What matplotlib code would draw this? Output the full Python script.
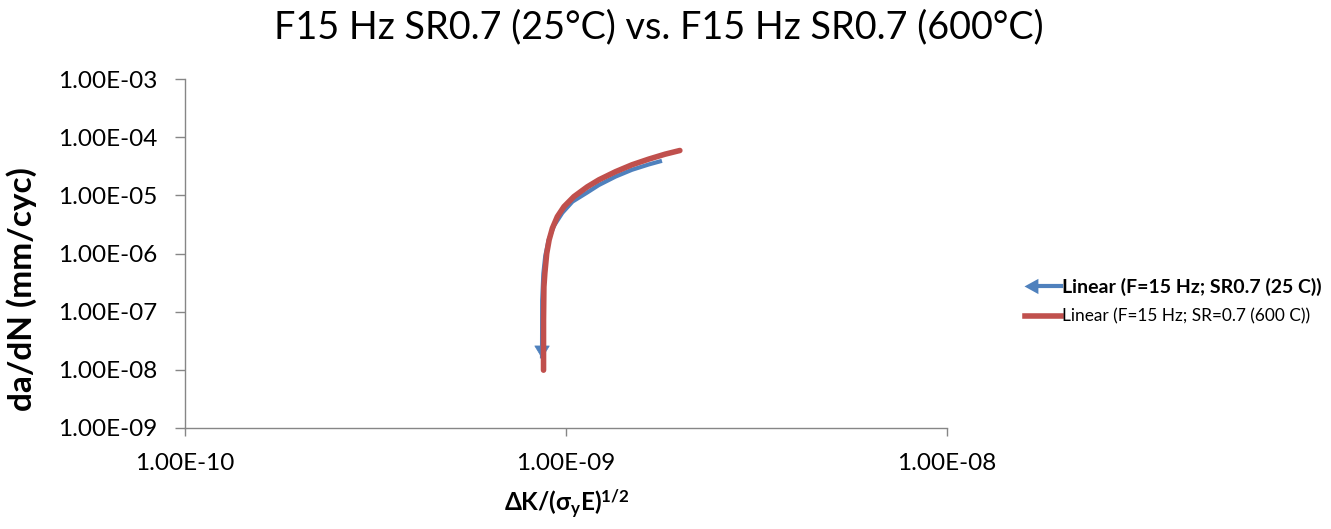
import matplotlib
matplotlib.use("Agg")
import matplotlib.pyplot as plt
from matplotlib.lines import Line2D
from matplotlib.patches import Polygon
from matplotlib.legend_handler import HandlerBase

plt.rcParams['font.family'] = ['Lato', 'DejaVu Sans']
plt.rcParams['mathtext.fontset'] = 'custom'
plt.rcParams['mathtext.rm'] = 'Lato'
plt.rcParams['mathtext.bf'] = 'Lato:bold'
plt.rcParams['mathtext.it'] = 'Lato:italic'

# ---- data ----
title = "F15 Hz SR0.7 (25°C) vs. F15 Hz SR0.7 (600°C)"
label_25 = "Linear (F=15 Hz; SR0.7 (25 C))"
label_600 = "Linear (F=15 Hz; SR=0.7 (600 C))"

x_25 = [8.65e-10, 8.66e-10, 8.72e-10, 8.82e-10, 9.0e-10, 9.3e-10, 9.78e-10,
        1.04e-9, 1.137e-9, 1.219e-9, 1.349e-9, 1.49e-9, 1.65e-9, 1.786e-9]
y_25 = [1.57e-8, 1.56e-7, 4.5e-7, 9.0e-7, 1.7e-6, 3.0e-6, 5.0e-6,
        7.8e-6, 1.12e-5, 1.5e-5, 2.1e-5, 2.75e-5, 3.4e-5, 3.92e-5]

x_600 = [8.73e-10, 8.73e-10, 8.75e-10, 8.80e-10, 8.85e-10, 8.90e-10, 9.03e-10,
         9.21e-10, 9.49e-10, 9.88e-10, 1.049e-9, 1.137e-9, 1.22e-9, 1.349e-9,
         1.49e-9, 1.65e-9, 1.82e-9, 1.99e-9]
y_600 = [9.87e-9, 7.16e-8, 2.68e-7, 4.6e-7, 6.78e-7, 1.0e-6, 1.71e-6,
         2.72e-6, 4.31e-6, 6.40e-6, 9.51e-6, 1.40e-5, 1.85e-5, 2.55e-5,
         3.35e-5, 4.2e-5, 5.1e-5, 5.9e-5]

x_ticks = [1e-10, 1e-9, 1e-8]
x_tick_labels = ["1.00E-10", "1.00E-09", "1.00E-08"]
y_ticks = [1e-9, 1e-8, 1e-7, 1e-6, 1e-5, 1e-4, 1e-3]
y_tick_labels = ["1.00E-09", "1.00E-08", "1.00E-07", "1.00E-06",
                 "1.00E-05", "1.00E-04", "1.00E-03"]

BLUE = "#4F81BD"
RED = "#C0504D"
GRAY = "#868686"

fig = plt.figure(figsize=(13.31, 5.29), dpi=100)
ax = fig.add_axes([185/1331, 1-428/529, (947-185)/1331, (428-79)/529])

ax.set_xscale('log')
ax.set_yscale('log')
ax.set_xlim(1e-10, 1e-8)
ax.set_ylim(1e-9, 1e-3)

ax.plot(x_25, y_25, color=BLUE, lw=3.0, solid_capstyle='butt', zorder=2)
ax.annotate('', xy=(x_25[0], y_25[0]), xytext=(x_25[1], y_25[1]),
            arrowprops=dict(arrowstyle='-|>,head_length=8.5,head_width=5.2',
                            mutation_scale=1, color=BLUE, lw=0.5,
                            shrinkA=0, shrinkB=0), zorder=2)
ax.plot(x_600, y_600, color=RED, lw=4.0, solid_capstyle='round', zorder=3)

ax.set_xticks(x_ticks)
ax.set_xticklabels(x_tick_labels)
ax.set_yticks(y_ticks)
ax.set_yticklabels(y_tick_labels)
ax.minorticks_off()
ax.tick_params(axis='both', which='major', width=1, color=GRAY,
               labelsize=17.5, labelcolor='#000000')
ax.tick_params(axis='y', length=7, pad=13)
ax.tick_params(axis='x', length=6, pad=12)

for s in ['top', 'right']:
    ax.spines[s].set_visible(False)
for s in ['left', 'bottom']:
    ax.spines[s].set_color(GRAY)
    ax.spines[s].set_linewidth(1)

fig.text(567/1331, 1-504/529, r'ΔK/(σ$_\mathbf{y}$E)$^\mathbf{1/2}$',
         ha='center', va='center', fontsize=17.5, fontweight='bold')
fig.text(22/1331, 1-289/529, 'da/dN (mm/cyc)', rotation=90,
         ha='center', va='center', fontsize=24, fontweight='bold')
fig.text(659/1331, 1-27/529, title, ha='center', va='center', fontsize=27.2)


class ArrowLineHandler(HandlerBase):
    def create_artists(self, legend, orig_handle, xdescent, ydescent,
                       width, height, fontsize, trans):
        y = height / 2 - ydescent
        x0 = -xdescent
        line = Line2D([x0 + 7, x0 + width], [y, y], color=BLUE, lw=3)
        head = Polygon([[x0, y], [x0 + 10, y + 5.5], [x0 + 10, y - 5.5]],
                       closed=True, color=BLUE, lw=0)
        line.set_transform(trans)
        head.set_transform(trans)
        return [line, head]


h_blue = Line2D([], [], color=BLUE, lw=3.0)
h_red = Line2D([], [], color=RED, lw=4.0)
leg = fig.legend([h_blue, h_red], [label_25, label_600],
                 loc='center left', bbox_to_anchor=(1009/1331, 1-301/529),
                 frameon=False, fontsize=12.4, handlelength=2.1,
                 handletextpad=0.1, labelspacing=0.75,
                 handler_map={h_blue: ArrowLineHandler()})
leg.get_texts()[0].set_fontweight('bold')
leg.get_texts()[0].set_fontsize(14)

fig.savefig('out.png', dpi=100)
